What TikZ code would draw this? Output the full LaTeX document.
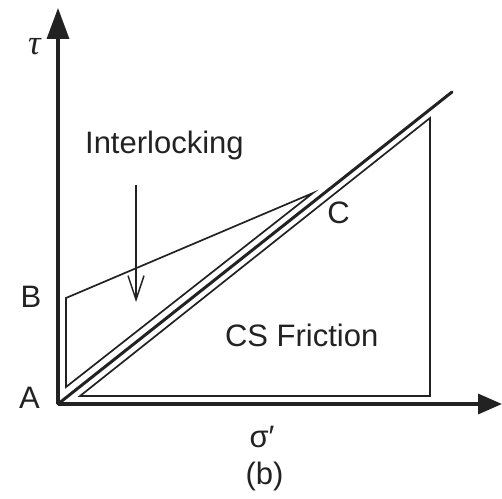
\documentclass[tikz,border=0pt]{standalone}
\usepackage{fontspec}
\setmainfont{Liberation Sans}
\newfontfamily\seriffont{Liberation Serif}
\usetikzlibrary{arrows.meta}
\definecolor{ink}{RGB}{34,34,34}
\begin{document}
\begin{tikzpicture}[x=1bp,y=-1bp,
  lbl/.style={anchor=base,inner sep=0pt,text=ink,font=\fontsize{31bp}{37bp}\selectfont},
  axis/.style={draw=ink,line width=3.4bp},
  thin/.style={draw=ink,line width=1.7bp,line join=miter},
  thick/.style={draw=ink,line width=3bp,line cap=round}]
\useasboundingbox (0,0) rectangle (502,499);
% coordinates
\coordinate (O) at (58,404);
\coordinate (Ytop) at (58,8);
\coordinate (Xend) at (502,404);
\coordinate (Lend) at (452,92);
\coordinate (W1) at (66,387);
\coordinate (W2) at (66,298);
\coordinate (W3) at (313,193);
\coordinate (T1) at (80,396);
\coordinate (T2) at (430,396);
\coordinate (T3) at (430,118);
\coordinate (Ia) at (136,185);
\coordinate (Ib) at (136,302);
% axes
\draw[axis,-{Triangle[length=31bp,width=22bp]}] (O) -- (Ytop);
\draw[axis,-{Triangle[length=24bp,width=20bp]}] (O) -- (Xend);
% lines
\draw[thick] (O) -- (Lend);
\draw[thin] (W1) -- (W2) -- (W3) -- cycle;
\draw[thin] (T1) -- (T2) -- (T3) -- cycle;
\draw[draw=ink,line width=1.5bp,-{Straight Barb[length=24bp,width=16bp]}] (Ia) -- (Ib);
% labels
\node[lbl] (tau) at (34.5,55) {\seriffont\itshape\fontsize{35bp}{40bp}\selectfont τ};
\node[lbl] (inter) at (164.4,153.3) {Interlocking};
\node[lbl] (C) at (338.5,223) {C};
\node[lbl] (B) at (31,307.7) {B};
\node[lbl] (A) at (29.5,408) {A};
\node[lbl] (csf) at (301.7,346.7) {CS Friction};
\node[lbl] (sig) at (262,447) {σ′};
\node[lbl] (b) at (264.5,484.5) {(b)};
\end{tikzpicture}
\end{document}
